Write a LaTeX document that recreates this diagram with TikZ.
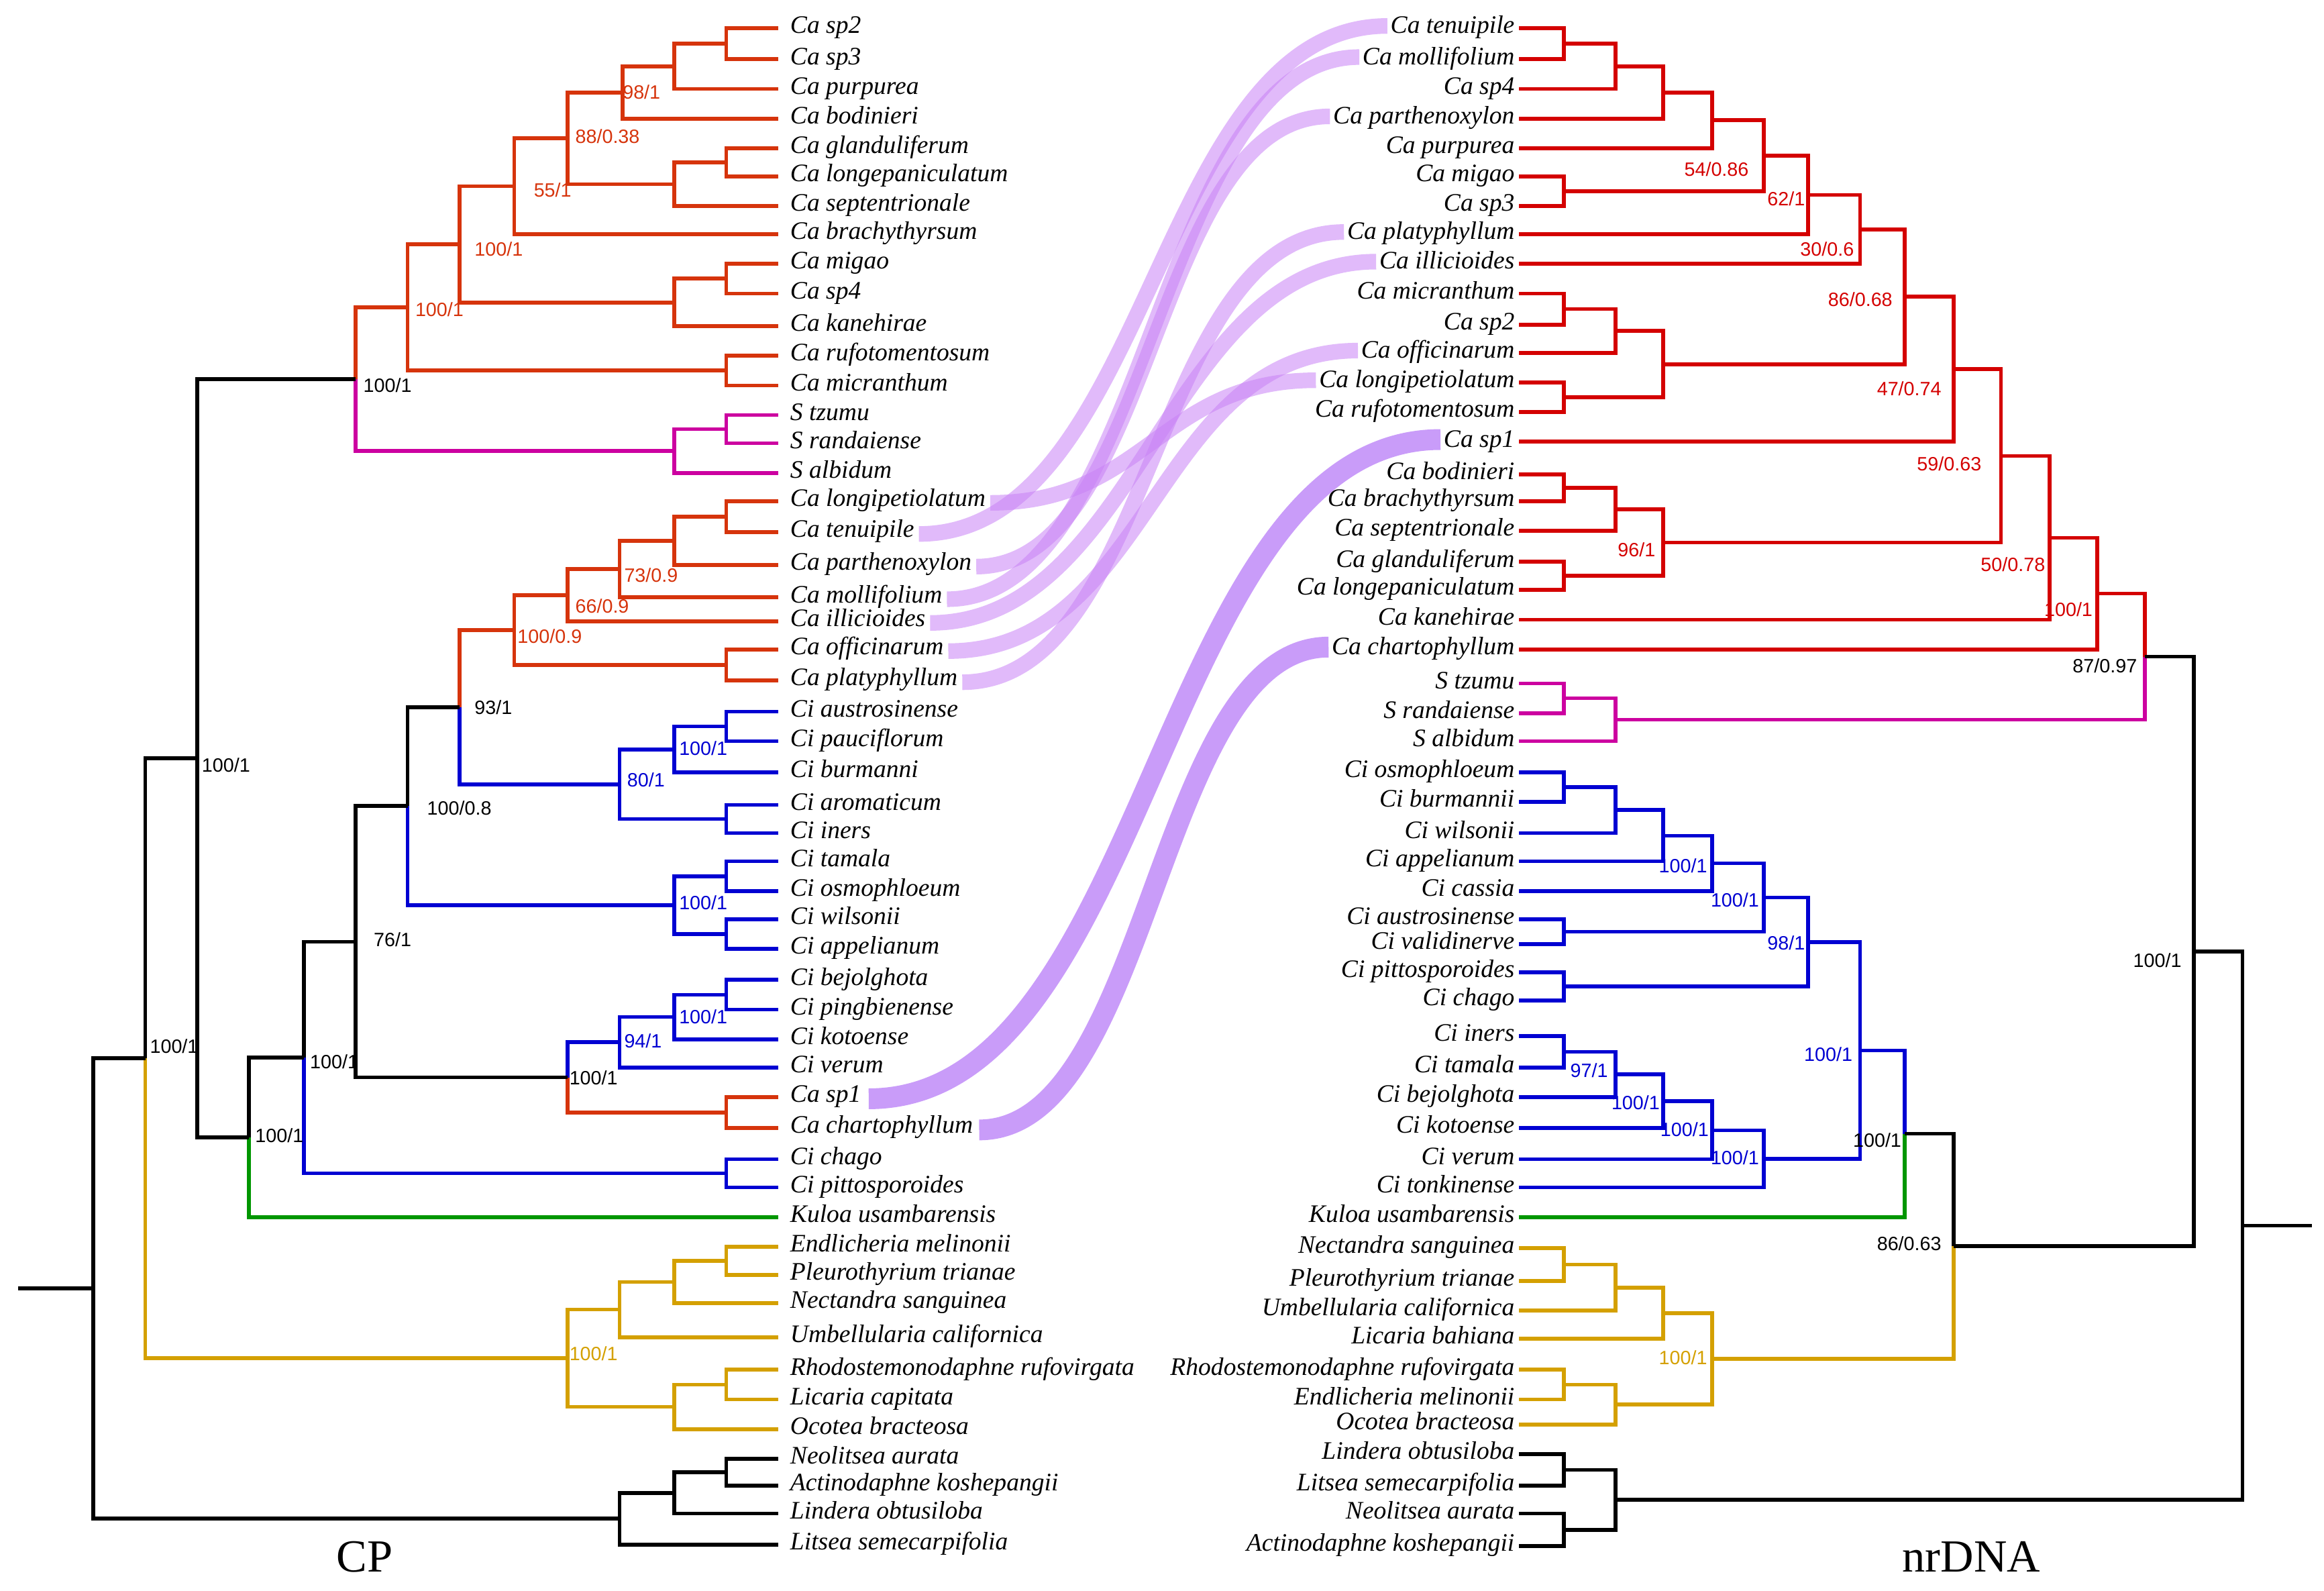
\documentclass[tikz,border=0pt]{standalone}
\usepackage{fontspec}
\setmainfont{Liberation Serif}
\newfontfamily\numfont{Liberation Sans}
\usetikzlibrary{calc}
\definecolor{cpred}{RGB}{214,52,12}
\definecolor{nrred}{RGB}{212,0,0}
\definecolor{smag}{RGB}{204,0,160}
\definecolor{ciblue}{RGB}{0,0,210}
\definecolor{kgreen}{RGB}{0,150,0}
\definecolor{gold}{RGB}{212,160,0}
\definecolor{bandc}{RGB}{200,130,245}
\definecolor{bandd}{RGB}{195,145,248}
% #1 name, #2 x, #3 child A, #4 child B, #5 style A, #6 style B
\newcommand\nd[6]{%
  \path let \p1=($(#3)!0.5!(#4)$) in coordinate (#1) at (#2pt,\y1);
  \draw[#5] (#3) -- (#3 -| #1) -- (#1);
  \draw[#6] (#1) -- (#4 -| #1) -- (#4);
}
\begin{document}
\begin{tikzpicture}[x=1pt,y=-1pt,
  tree/.style={line width=2.6pt,line join=miter,line cap=butt},
  cR/.style={tree,draw=cpred}, cr/.style={tree,draw=nrred},
  cM/.style={tree,draw=smag}, cB/.style={tree,draw=ciblue},
  cK/.style={tree,draw=black}, cG/.style={tree,draw=kgreen},
  cY/.style={tree,draw=gold},
  ltaxon/.style={anchor=mid west,inner sep=0pt,yshift=-1.2pt,font=\fontsize{17}{17}\selectfont\itshape},
  rtaxon/.style={anchor=mid east,inner sep=0pt,yshift=-1.2pt,font=\fontsize{17}{17}\selectfont\itshape},
  bsL/.style={anchor=west,inner sep=0pt,font=\numfont\fontsize{13}{13}\selectfont},
  bsR/.style={anchor=east,inner sep=0pt,font=\numfont\fontsize{13}{13}\selectfont},
  lband/.style={draw=bandc,draw opacity=0.55,line width=10.5pt,line cap=butt},
  dband/.style={draw=bandd,draw opacity=0.9,line width=14pt,line cap=butt}]
\useasboundingbox (0,0) rectangle (1568,1073);

% ---------------- left taxa (CP)
\foreach \yy/\tt [count=\i] in {19/Ca sp2,40/Ca sp3,60/Ca purpurea,80/Ca bodinieri,
 100/Ca glanduliferum,119/Ca longepaniculatum,139/Ca septentrionale,158/Ca brachythyrsum,
 178/Ca migao,198/Ca sp4,220/Ca kanehirae,240/Ca rufotomentosum,260/Ca micranthum,
 280/S tzumu,299/S randaiense,319/S albidum,338/Ca longipetiolatum,359/Ca tenuipile,
 381/Ca parthenoxylon,403/Ca mollifolium,419/Ca illicioides,438/Ca officinarum,
 459/Ca platyphyllum,480/Ci austrosinense,500/Ci pauciflorum,521/Ci burmanni,
 543/Ci aromaticum,562/Ci iners,581/Ci tamala,601/Ci osmophloeum,620/Ci wilsonii,
 640/Ci appelianum,661/Ci bejolghota,681/Ci pingbienense,701/Ci kotoense,720/Ci verum,
 740/Ca sp1,761/Ca chartophyllum,782/Ci chago,801/Ci pittosporoides,821/Kuloa usambarensis,
 841/Endlicheria melinonii,860/Pleurothyrium trianae,879/Nectandra sanguinea,
 902/Umbellularia californica,924/Rhodostemonodaphne rufovirgata,944/Licaria capitata,
 964/Ocotea bracteosa,984/Neolitsea aurata,1002/Actinodaphne koshepangii,
 1021/Lindera obtusiloba,1042/Litsea semecarpifolia}{
  \node[ltaxon] (L\i) at (533,\yy) {\tt};
  \coordinate (a\i) at (525,\yy);
}

% ---------------- right taxa (nrDNA)
\foreach \yy/\tt [count=\i] in {19/Ca tenuipile,40/Ca mollifolium,60/Ca sp4,80/Ca parthenoxylon,
 100/Ca purpurea,119/Ca migao,139/Ca sp3,158/Ca platyphyllum,178/Ca illicioides,
 198/Ca micranthum,219/Ca sp2,238/Ca officinarum,258/Ca longipetiolatum,278/Ca rufotomentosum,
 298/Ca sp1,320/Ca bodinieri,338/Ca brachythyrsum,358/Ca septentrionale,379/Ca glanduliferum,
 398/Ca longepaniculatum,418/Ca kanehirae,438/Ca chartophyllum,461/S tzumu,481/S randaiense,
 500/S albidum,521/Ci osmophloeum,541/Ci burmannii,562/Ci wilsonii,581/Ci appelianum,
 601/Ci cassia,620/Ci austrosinense,637/Ci validinerve,656/Ci pittosporoides,675/Ci chago,
 699/Ci iners,720/Ci tamala,740/Ci bejolghota,761/Ci kotoense,782/Ci verum,801/Ci tonkinense,
 821/Kuloa usambarensis,842/Nectandra sanguinea,864/Pleurothyrium trianae,
 884/Umbellularia californica,903/Licaria bahiana,924/Rhodostemonodaphne rufovirgata,
 944/Endlicheria melinonii,961/Ocotea bracteosa,981/Lindera obtusiloba,
 1002/Litsea semecarpifolia,1021/Neolitsea aurata,1043/Actinodaphne koshepangii}{
  \node[rtaxon] (R\i) at (1022,\yy) {\tt};
  \coordinate (b\i) at (1025,\yy);
}

% ---------------- connecting bands
\draw[dband] ([xshift=5pt]L37.mid east) .. controls +(190,0) and +(-190,0) .. ([xshift=-2pt,yshift=2.7pt]R15.mid west);
\draw[dband] ([xshift=4pt]L38.mid east) .. controls +(116,0) and +(-116,0) .. ([xshift=-2pt,yshift=2.7pt]R22.mid west);
\draw[lband] ([xshift=3pt]L18.mid east) .. controls +(157,0) and +(-157,0) .. ([xshift=-2pt,yshift=2.7pt]R1.mid west);
\draw[lband] ([xshift=3pt]L20.mid east) .. controls +(138,0) and +(-138,0) .. ([xshift=-2pt,yshift=2.7pt]R2.mid west);
\draw[lband] ([xshift=3pt]L19.mid east) .. controls +(121,0) and +(-121,0) .. ([xshift=-2pt,yshift=2.7pt]R4.mid west);
\draw[lband] ([xshift=3pt]L23.mid east) .. controls +(130,0) and +(-130,0) .. ([xshift=-2pt,yshift=2.7pt]R8.mid west);
\draw[lband] ([xshift=3pt]L21.mid east) .. controls +(141,0) and +(-141,0) .. ([xshift=-2pt,yshift=2.7pt]R9.mid west);
\draw[lband] ([xshift=3pt]L22.mid east) .. controls +(137,0) and +(-137,0) .. ([xshift=-2pt,yshift=2.7pt]R12.mid west);
\draw[lband] ([xshift=3pt]L17.mid east) .. controls +(105,0) and +(-105,0) .. ([xshift=-2pt,yshift=2.7pt]R13.mid west);

% ---------------- left tree
\nd{p1}{490}{a1}{a2}{cR}{cR}
\nd{p2}{455}{p1}{a3}{cR}{cR}
\nd{p3}{420}{p2}{a4}{cR}{cR}
\nd{p4}{490}{a5}{a6}{cR}{cR}
\nd{p5}{455}{p4}{a7}{cR}{cR}
\nd{p6}{383}{p3}{p5}{cR}{cR}
\nd{p7}{347}{p6}{a8}{cR}{cR}
\nd{p8}{490}{a9}{a10}{cR}{cR}
\nd{p9}{455}{p8}{a11}{cR}{cR}
\nd{p10}{310}{p7}{p9}{cR}{cR}
\nd{p11}{490}{a12}{a13}{cR}{cR}
\nd{p12}{275}{p10}{p11}{cR}{cR}
\nd{p13}{490}{a14}{a15}{cM}{cM}
\nd{p14}{455}{p13}{a16}{cM}{cM}
\nd{p15}{240}{p12}{p14}{cR}{cM}
\nd{p16}{490}{a17}{a18}{cR}{cR}
\nd{p17}{455}{p16}{a19}{cR}{cR}
\nd{p18}{418}{p17}{a20}{cR}{cR}
\nd{p19}{383}{p18}{a21}{cR}{cR}
\nd{p20}{490}{a22}{a23}{cR}{cR}
\nd{p21}{347}{p19}{p20}{cR}{cR}
\nd{p22}{490}{a24}{a25}{cB}{cB}
\nd{p23}{455}{p22}{a26}{cB}{cB}
\nd{p24}{490}{a27}{a28}{cB}{cB}
\nd{p25}{418}{p23}{p24}{cB}{cB}
\nd{p26}{310}{p21}{p25}{cR}{cB}
\nd{p27}{490}{a29}{a30}{cB}{cB}
\nd{p28}{490}{a31}{a32}{cB}{cB}
\nd{p29}{455}{p27}{p28}{cB}{cB}
\nd{p30}{275}{p26}{p29}{cK}{cB}
\nd{p31}{490}{a33}{a34}{cB}{cB}
\nd{p32}{455}{p31}{a35}{cB}{cB}
\nd{p33}{418}{p32}{a36}{cB}{cB}
\nd{p34}{490}{a37}{a38}{cR}{cR}
\nd{p35}{383}{p33}{p34}{cB}{cR}
\nd{p36}{240}{p30}{p35}{cK}{cK}
\nd{p37}{490}{a39}{a40}{cB}{cB}
\nd{p38}{205}{p36}{p37}{cK}{cB}
\nd{p39}{168}{p38}{a41}{cK}{cG}
\nd{p40}{133}{p15}{p39}{cK}{cK}
\nd{p41}{490}{a42}{a43}{cY}{cY}
\nd{p42}{455}{p41}{a44}{cY}{cY}
\nd{p43}{418}{p42}{a45}{cY}{cY}
\nd{p44}{490}{a46}{a47}{cY}{cY}
\nd{p45}{455}{p44}{a48}{cY}{cY}
\nd{p46}{383}{p43}{p45}{cY}{cY}
\nd{p47}{98}{p40}{p46}{cK}{cY}
\nd{p48}{490}{a49}{a50}{cK}{cK}
\nd{p49}{455}{p48}{a51}{cK}{cK}
\nd{p50}{418}{p49}{a52}{cK}{cK}
\nd{p51}{63}{p47}{p50}{cK}{cK}
\coordinate (lroot) at (12,869);
\draw[cK] (p51) -- (p51 -| lroot);

% ---------------- right tree
\nd{q1}{1055}{b1}{b2}{cr}{cr}
\nd{q2}{1090}{q1}{b3}{cr}{cr}
\nd{q3}{1122}{q2}{b4}{cr}{cr}
\nd{q4}{1155}{q3}{b5}{cr}{cr}
\nd{q5}{1055}{b6}{b7}{cr}{cr}
\nd{q6}{1190}{q4}{q5}{cr}{cr}
\nd{q7}{1220}{q6}{b8}{cr}{cr}
\nd{q8}{1255}{q7}{b9}{cr}{cr}
\nd{q9}{1055}{b10}{b11}{cr}{cr}
\nd{q10}{1090}{q9}{b12}{cr}{cr}
\nd{q11}{1055}{b13}{b14}{cr}{cr}
\nd{q12}{1122}{q10}{q11}{cr}{cr}
\nd{q13}{1285}{q8}{q12}{cr}{cr}
\nd{q14}{1318}{q13}{b15}{cr}{cr}
\nd{q15}{1055}{b16}{b17}{cr}{cr}
\nd{q16}{1090}{q15}{b18}{cr}{cr}
\nd{q17}{1055}{b19}{b20}{cr}{cr}
\nd{q18}{1122}{q16}{q17}{cr}{cr}
\nd{q19}{1350}{q14}{q18}{cr}{cr}
\nd{q20}{1383}{q19}{b21}{cr}{cr}
\nd{q21}{1415}{q20}{b22}{cr}{cr}
\nd{q22}{1055}{b23}{b24}{cM}{cM}
\nd{q23}{1090}{q22}{b25}{cM}{cM}
\nd{q24}{1447}{q21}{q23}{cr}{cM}
\nd{q25}{1055}{b26}{b27}{cB}{cB}
\nd{q26}{1090}{q25}{b28}{cB}{cB}
\nd{q27}{1122}{q26}{b29}{cB}{cB}
\nd{q28}{1155}{q27}{b30}{cB}{cB}
\nd{q29}{1055}{b31}{b32}{cB}{cB}
\nd{q30}{1190}{q28}{q29}{cB}{cB}
\nd{q31}{1055}{b33}{b34}{cB}{cB}
\nd{q32}{1220}{q30}{q31}{cB}{cB}
\nd{q33}{1055}{b35}{b36}{cB}{cB}
\nd{q34}{1090}{q33}{b37}{cB}{cB}
\nd{q35}{1122}{q34}{b38}{cB}{cB}
\nd{q36}{1155}{q35}{b39}{cB}{cB}
\nd{q37}{1190}{q36}{b40}{cB}{cB}
\nd{q38}{1255}{q32}{q37}{cB}{cB}
\nd{q39}{1285}{q38}{b41}{cB}{cG}
\nd{q40}{1055}{b42}{b43}{cY}{cY}
\nd{q41}{1090}{q40}{b44}{cY}{cY}
\nd{q42}{1122}{q41}{b45}{cY}{cY}
\nd{q43}{1055}{b46}{b47}{cY}{cY}
\nd{q44}{1090}{q43}{b48}{cY}{cY}
\nd{q45}{1155}{q42}{q44}{cY}{cY}
\nd{q46}{1318}{q39}{q45}{cK}{cY}
\nd{q47}{1480}{q24}{q46}{cK}{cK}
\nd{q48}{1055}{b49}{b50}{cK}{cK}
\nd{q49}{1055}{b51}{b52}{cK}{cK}
\nd{q50}{1090}{q48}{q49}{cK}{cK}
\nd{q51}{1513}{q47}{q50}{cK}{cK}
\coordinate (rroot) at (1560,827);
\draw[cK] (q51) -- (q51 -| rroot);

% ---------------- support values, left
\node[bsL,text=cpred] (s1) at (420,62) {98/1};
\node[bsL,text=cpred] (s2) at (388,92) {88/0.38};
\node[bsL,text=cpred] (s3) at (360,128) {55/1};
\node[bsL,text=cpred] (s4) at (320,168) {100/1};
\node[bsL,text=cpred] (s5) at (280,209) {100/1};
\node[bsL] (s6) at (245,260) {100/1};
\node[bsL,text=cpred] (s7) at (421,388) {73/0.9};
\node[bsL,text=cpred] (s8) at (388,409) {66/0.9};
\node[bsL,text=cpred] (s9) at (349,429) {100/0.9};
\node[bsL] (s10) at (320,477) {93/1};
\node[bsL,text=ciblue] (s11) at (458,505) {100/1};
\node[bsL,text=ciblue] (s12) at (423,526) {80/1};
\node[bsL] (s13) at (288,545) {100/0.8};
\node[bsL,text=ciblue] (s14) at (458,609) {100/1};
\node[bsL] (s15) at (252,634) {76/1};
\node[bsL,text=ciblue] (s16) at (458,686) {100/1};
\node[bsL,text=ciblue] (s17) at (421,702) {94/1};
\node[bsL] (s18) at (384,727) {100/1};
\node[bsL] (s19) at (209,716) {100/1};
\node[bsL] (s20) at (172,766) {100/1};
\node[bsL] (s21) at (136,516) {100/1};
\node[bsL] (s22) at (101,706) {100/1};
\node[bsL,text=gold] (s23) at (384,913) {100/1};

% ---------------- support values, right
\node[bsR,text=nrred] (t1) at (1180,114) {54/0.86};
\node[bsR,text=nrred] (t2) at (1218,134) {62/1};
\node[bsR,text=nrred] (t3) at (1251,168) {30/0.6};
\node[bsR,text=nrred] (t4) at (1277,202) {86/0.68};
\node[bsR,text=nrred] (t5) at (1310,262) {47/0.74};
\node[bsR,text=nrred] (t6) at (1337,313) {59/0.63};
\node[bsR,text=nrred] (t7) at (1117,371) {96/1};
\node[bsR,text=nrred] (t8) at (1380,381) {50/0.78};
\node[bsR,text=nrred] (t9) at (1412,411) {100/1};
\node[bsR] (t10) at (1442,449) {87/0.97};
\node[bsR] (t11) at (1472,648) {100/1};
\node[bsR,text=ciblue] (t12) at (1152,584) {100/1};
\node[bsR,text=ciblue] (t13) at (1187,607) {100/1};
\node[bsR,text=ciblue] (t14) at (1218,636) {98/1};
\node[bsR,text=ciblue] (t15) at (1250,711) {100/1};
\node[bsR,text=ciblue] (t16) at (1085,722) {97/1};
\node[bsR,text=ciblue] (t17) at (1120,744) {100/1};
\node[bsR,text=ciblue] (t18) at (1153,762) {100/1};
\node[bsR,text=ciblue] (t19) at (1187,781) {100/1};
\node[bsR] (t20) at (1283,769) {100/1};
\node[bsR] (t21) at (1310,839) {86/0.63};
\node[bsR,text=gold] (t22) at (1152,916) {100/1};

% ---------------- titles
\node[font=\fontsize{31}{31}\selectfont] (cp) at (246,1050) {CP};
\node[font=\fontsize{31}{31}\selectfont] (nr) at (1330,1050) {nrDNA};
\end{tikzpicture}
\end{document}
